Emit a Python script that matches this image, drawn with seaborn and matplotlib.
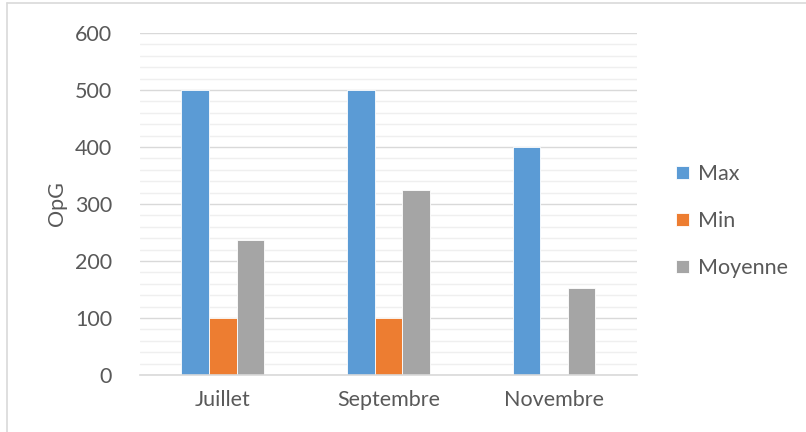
import matplotlib
matplotlib.use("Agg")
import matplotlib.pyplot as plt
from matplotlib.ticker import MultipleLocator
from matplotlib.lines import Line2D
import seaborn as sns
import pandas as pd

months = ["Juillet", "Septembre", "Novembre"]
series = ["Max", "Min", "Moyenne"]
max_vals = [500, 500, 400]
min_vals = [100, 100, 0]
moy_vals = [236, 325, 153]
colors = ["#5B9BD5", "#ED7D31", "#A5A5A5"]

rows = []
for name, vals in zip(series, [max_vals, min_vals, moy_vals]):
    for m, v in zip(months, vals):
        rows.append({"Mois": m, "Série": name, "OpG": v})
df = pd.DataFrame(rows)

sns.set_theme(style="white")
plt.rcParams["font.family"] = ["Lato", "DejaVu Sans"]
text_color = "#595959"
fs = 15.5

fig = plt.figure(figsize=(8.06, 4.32), dpi=100)
ax = fig.add_axes([0.1737, 0.132, 0.6163, 0.7916])

sns.barplot(data=df, x="Mois", y="OpG", hue="Série", palette=colors,
            width=0.5, edgecolor="white", linewidth=0.6, saturation=1,
            ax=ax, legend=True)

ax.set_ylim(0, 600)
ax.set_xlim(-0.5, 2.5)
ax.yaxis.set_major_locator(MultipleLocator(100))
ax.yaxis.set_minor_locator(MultipleLocator(20))
ax.grid(which="minor", axis="y", color="#EFEFEF", linewidth=1.0)
ax.grid(which="major", axis="y", color="#D9D9D9", linewidth=1.0)
ax.set_axisbelow(True)
for s in ["top", "right", "left"]:
    ax.spines[s].set_visible(False)
ax.spines["bottom"].set_color("#D9D9D9")
ax.spines["bottom"].set_linewidth(1.2)

ax.tick_params(axis="both", which="both", length=0, labelsize=fs,
               colors=text_color)
ax.tick_params(axis="y", pad=20)
ax.tick_params(axis="x", pad=11)
ax.set_xlabel("")
ax.set_ylabel("OpG", fontsize=fs, color=text_color, labelpad=6)

handles, labels = ax.get_legend_handles_labels()
ax.legend(handles, labels, loc="center left", bbox_to_anchor=(1.04, 0.45),
          frameon=False, fontsize=fs, labelcolor=text_color,
          handlelength=0.6, handleheight=0.6, handletextpad=0.4,
          labelspacing=1.25)

# light frame around the chart area
fig.add_artist(Line2D([7 / 806, 7 / 806], [0, 1 - 3 / 432],
                      transform=fig.transFigure, color="#D9D9D9", lw=1.2))
fig.add_artist(Line2D([7 / 806, 1], [1 - 3 / 432, 1 - 3 / 432],
                      transform=fig.transFigure, color="#D9D9D9", lw=1.2))

fig.savefig("out.png", dpi=100)
